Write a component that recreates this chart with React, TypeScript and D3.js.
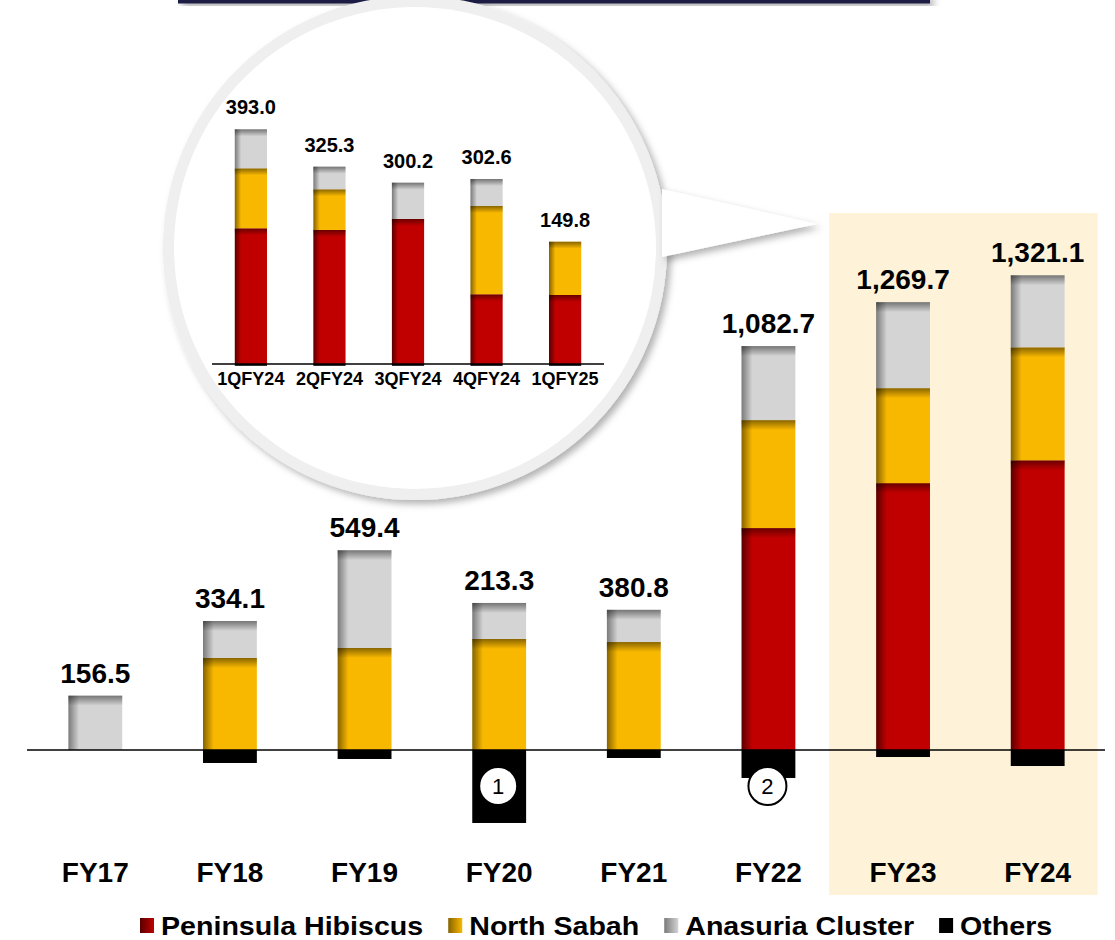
import * as d3 from "d3";
import React, { useRef, useEffect } from "react";

// annual production by asset (net, Others shown below the axis)
const years = ["FY17", "FY18", "FY19", "FY20", "FY21", "FY22", "FY23", "FY24"];
const peninsula = [0, 0, 0, 0, 0, 639.2, 768.6, 834.4];
const northSabah = [0, 265, 293.8, 319.8, 311, 311, 273.6, 325.4];
const anasuria = [156.5, 106.5, 281.5, 103.7, 92.8, 213.1, 247.7, 207.4];
const others = [0, -37.4, -25.9, -210.2, -23, -80.6, -20.2, -46.1];

// quarterly zoom-in
const quarters = ["1QFY24", "2QFY24", "3QFY24", "4QFY24", "1QFY25"];
const qPeninsula = [224.6, 221.8, 240, 115.4, 114.2];
const qNorthSabah = [99.3, 67.4, 0, 146.1, 88.2];
const qAnasuria = [64.5, 37.4, 60.1, 44.7, 0];
const qOthers = [-3, -3, -3, -3, -3];
const qTotals = ["393.0", "325.3", "300.2", "302.6", "149.8"];

const highlighted = ["FY23", "FY24"];
const notes = [
  { year: "FY20", label: "1" },
  { year: "FY22", label: "2" },
];

const keys = ["peninsula", "northSabah", "anasuria", "others"];
const legendNames = ["Peninsula Hibiscus", "North Sabah", "Anasuria Cluster", "Others"];
const palette: Record<string, { base: string; dark: string }> = {
  peninsula: { base: "#c00000", dark: "#5a0000" },
  northSabah: { base: "#f9b800", dark: "#866300" },
  anasuria: { base: "#d4d4d4", dark: "#7a7a7a" },
  others: { base: "#000000", dark: "#000000" },
};

const FONT = "'Liberation Sans', Arial, Helvetica, sans-serif";

const drawStack = (g, rows, x, y, topShade) => {
  const stack = d3.stack().keys(keys).offset(d3.stackOffsetDiverging);
  const layers = stack(rows);
  layers.forEach((layer) => {
    const key = layer.key;
    const segs = layer.filter((d) => d[1] - d[0] !== 0);
    g.selectAll(null)
      .data(segs)
      .enter()
      .append("rect")
      .attr("x", (d) => x(d.data.cat))
      .attr("width", x.bandwidth())
      .attr("y", (d) => y(d[1]))
      .attr("height", (d) => Math.abs(y(d[0]) - y(d[1])))
      .attr("fill", key === "others" ? "#000" : `url(#side-${key})`);
    if (key !== "others") {
      g.selectAll(null)
        .data(segs)
        .enter()
        .append("rect")
        .attr("x", (d) => x(d.data.cat))
        .attr("width", x.bandwidth())
        .attr("y", (d) => y(d[1]))
        .attr("height", (d) => Math.min(topShade, Math.abs(y(d[0]) - y(d[1]))))
        .attr("fill", "url(#topShade)");
    }
  });
};

const drawChart = (node: SVGSVGElement) => {
  const svg = d3.select(node);
  svg.selectAll("*").remove();
  const defs = svg.append("defs");

  keys.forEach((k) => {
    const side = defs
      .append("linearGradient")
      .attr("id", "side-" + k)
      .attr("x1", 0)
      .attr("x2", 1)
      .attr("y1", 0)
      .attr("y2", 0);
    side.append("stop").attr("offset", "0%").attr("stop-color", palette[k].dark);
    side.append("stop").attr("offset", "20%").attr("stop-color", palette[k].base);
    side.append("stop").attr("offset", "100%").attr("stop-color", palette[k].base);

    const leg = defs
      .append("linearGradient")
      .attr("id", "leg-" + k)
      .attr("x1", 0)
      .attr("x2", 1)
      .attr("y1", 0)
      .attr("y2", 0);
    leg.append("stop").attr("offset", "0%").attr("stop-color", palette[k].dark);
    leg.append("stop").attr("offset", "100%").attr("stop-color", palette[k].base);
  });

  const top = defs
    .append("linearGradient")
    .attr("id", "topShade")
    .attr("x1", 0)
    .attr("x2", 0)
    .attr("y1", 0)
    .attr("y2", 1);
  top.append("stop").attr("offset", "0%").attr("stop-color", "#000").attr("stop-opacity", 0.45);
  top.append("stop").attr("offset", "100%").attr("stop-color", "#000").attr("stop-opacity", 0);

  const shadow = defs.append("filter").attr("id", "shadow").attr("x", "-20%").attr("y", "-20%").attr("width", "140%").attr("height", "140%");
  shadow
    .append("feDropShadow")
    .attr("dx", 4)
    .attr("dy", 4)
    .attr("stdDeviation", 3.5)
    .attr("flood-color", "#000")
    .attr("flood-opacity", 0.3);

  // ---------- main chart scales ----------
  const x = d3.scaleBand().domain(years).range([28, 1105]).paddingInner(0.6).paddingOuter(0.3);
  const y = d3.scaleLinear().domain([0, 1000]).range([750, 750 - 347.2]);

  // highlight panel behind FY23-FY24
  const hx0 = x(highlighted[0]) - 47;
  const hx1 = x(highlighted[highlighted.length - 1]) + x.bandwidth() + 33;
  svg
    .append("rect")
    .attr("x", hx0)
    .attr("y", 213)
    .attr("width", hx1 - hx0)
    .attr("height", 682)
    .attr("fill", "#fef3d9");

  // bottom edge of the title box
  svg
    .append("rect")
    .attr("x", 178)
    .attr("y", -6)
    .attr("width", 752)
    .attr("height", 9.5)
    .attr("fill", "#1d1d45")
    .attr("filter", "url(#shadow)");

  // ---------- magnifier inset ----------
  const cx = 415;
  const cy = 248;
  svg.append("circle").attr("cx", cx).attr("cy", cy).attr("r", 252).attr("fill", "#efefef").attr("filter", "url(#shadow)");
  svg
    .append("path")
    .attr("d", "M662,189 L817,224 L662,257 Z")
    .attr("fill", "#fff")
    .attr("filter", "url(#shadow)");
  svg.append("circle").attr("cx", cx).attr("cy", cy).attr("r", 241).attr("fill", "#fff");

  const qx = d3.scaleBand().domain(quarters).range([212, 604]).paddingInner(0.59).paddingOuter(0.29);
  const qy = d3.scaleLinear().domain([0, 1000]).range([364, 364 - 604.2]);
  const qRows = quarters.map((q, i) => ({
    cat: q,
    peninsula: qPeninsula[i],
    northSabah: qNorthSabah[i],
    anasuria: qAnasuria[i],
    others: qOthers[i],
  }));
  const gq = svg.append("g");
  drawStack(gq, qRows, qx, qy, 7);

  gq.append("line")
    .attr("x1", 212)
    .attr("x2", 604)
    .attr("y1", qy(0))
    .attr("y2", qy(0))
    .attr("stroke", "#000")
    .attr("stroke-width", 1.5);

  gq.selectAll(null)
    .data(qRows)
    .enter()
    .append("text")
    .attr("x", (d) => qx(d.cat) + qx.bandwidth() / 2)
    .attr("y", (d) => qy(d.peninsula + d.northSabah + d.anasuria) - 15)
    .attr("text-anchor", "middle")
    .style("font-family", FONT)
    .style("font-weight", "bold")
    .style("font-size", "20px")
    .text((d, i) => qTotals[i]);

  gq.selectAll(null)
    .data(quarters)
    .enter()
    .append("text")
    .attr("x", (d) => qx(d) + qx.bandwidth() / 2)
    .attr("y", 385)
    .attr("text-anchor", "middle")
    .style("font-family", FONT)
    .style("font-weight", "bold")
    .style("font-size", "18px")
    .text((d) => d);

  // ---------- main bars ----------
  const rows = years.map((yr, i) => ({
    cat: yr,
    peninsula: peninsula[i],
    northSabah: northSabah[i],
    anasuria: anasuria[i],
    others: others[i],
  }));
  const gm = svg.append("g");
  drawStack(gm, rows, x, y, 10);

  gm.append("line")
    .attr("x1", 27)
    .attr("x2", 1105)
    .attr("y1", y(0))
    .attr("y2", y(0))
    .attr("stroke", "#000")
    .attr("stroke-width", 1.5);

  const fmt = d3.format(",.1f");
  gm.selectAll(null)
    .data(rows)
    .enter()
    .append("text")
    .attr("x", (d) => x(d.cat) + x.bandwidth() / 2)
    .attr("y", (d) => y(d.peninsula + d.northSabah + d.anasuria) - 13)
    .attr("text-anchor", "middle")
    .style("font-family", FONT)
    .style("font-weight", "bold")
    .style("font-size", "28px")
    .text((d) => fmt(d.peninsula + d.northSabah + d.anasuria + d.others));

  gm.selectAll(null)
    .data(years)
    .enter()
    .append("text")
    .attr("x", (d) => x(d) + x.bandwidth() / 2)
    .attr("y", 882)
    .attr("text-anchor", "middle")
    .style("font-family", FONT)
    .style("font-weight", "bold")
    .style("font-size", "28px")
    .text((d) => d);

  // footnote markers
  const gn = gm
    .selectAll(null)
    .data(notes)
    .enter()
    .append("g")
    .attr("transform", (d) => `translate(${x(d.year) + x.bandwidth() / 2 - 1},${y(0) + 36})`);
  gn.append("circle").attr("r", 19).attr("fill", "#fff").attr("stroke", "#000").attr("stroke-width", 2);
  gn.append("text")
    .attr("text-anchor", "middle")
    .attr("dy", "0.36em")
    .style("font-family", FONT)
    .style("font-size", "22px")
    .text((d) => d.label);

  // ---------- legend ----------
  const gl = svg.append("g");
  let lx = 140;
  keys.forEach((k, i) => {
    gl.append("rect").attr("x", lx).attr("y", 918).attr("width", 14).attr("height", 15).attr("fill", `url(#leg-${k})`);
    const t = gl
      .append("text")
      .attr("transform", `translate(${lx + 21},935) scale(1.1,1)`)
      .style("font-family", FONT)
      .style("font-weight", "bold")
      .style("font-size", "26px")
      .text(legendNames[i]);
    const w = (t.node() as SVGTextElement).getComputedTextLength() * 1.1;
    lx += 21 + w + 25;
  });
};

const App = () => {
  const ref = useRef<SVGSVGElement>(null);
  useEffect(() => {
    if (ref.current) drawChart(ref.current);
  }, []);
  return (
    <div style={{ position: "absolute", left: 0, top: 0, background: "#fff" }}>
      <svg ref={ref} width={1115} height={940} style={{ display: "block" }} />
    </div>
  );
};

export default App;
